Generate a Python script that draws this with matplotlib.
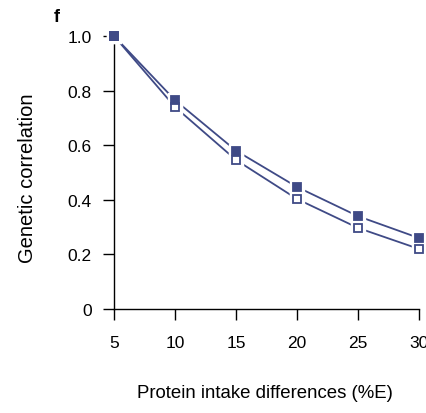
import matplotlib
matplotlib.use("Agg")
import matplotlib.pyplot as plt

plt.rcParams['font.family'] = ['Liberation Sans', 'DejaVu Sans']

diffs = [5, 10, 15, 20, 25, 30]
corr_filled = [1.0, 0.765, 0.58, 0.447, 0.34, 0.26]
corr_open = [1.0, 0.74, 0.546, 0.403, 0.297, 0.22]
yticks = [0, 0.2, 0.4, 0.6, 0.8, 1.0]
ytick_labels = ['0', '0.2', '0.4', '0.6', '0.8', '1.0']

col = '#3F4A86'

fig = plt.figure(figsize=(4.27, 4.14), dpi=100)
ax = fig.add_axes([114 / 427, 1 - 310 / 414, 305 / 427, 273 / 414])

for ys in [corr_open, corr_filled]:
    ax.plot(diffs, ys, color=col, lw=1.3, clip_on=False, zorder=2)
    # white halo so the line stops short of each marker
    ax.plot(diffs, ys, ls='none', marker='s', ms=10.5, mfc='white', mec='white',
            clip_on=False, zorder=3)
for ys, face in [(corr_open, 'white'), (corr_filled, col)]:
    ax.plot(diffs, ys, ls='none', marker='s', ms=6, mfc=face, mec=col, mew=1.3,
            clip_on=False, zorder=4)

ax.set_xlim(5, 30)
ax.set_ylim(0, 1.0)
ax.set_xticks(diffs)
ax.set_yticks(yticks)
ax.set_yticklabels(ytick_labels)
for s in ['top', 'right']:
    ax.spines[s].set_visible(False)
for s in ['left', 'bottom']:
    ax.spines[s].set_linewidth(1.0)
ax.tick_params(axis='x', direction='out', length=8, width=1.0, pad=11, labelsize=12.5)
ax.tick_params(axis='y', direction='out', length=8, width=1.0, pad=8, labelsize=12.5)

fig.text(33 / 427, 1 - 178 / 414, 'Genetic correlation', rotation=90,
         rotation_mode='anchor', ha='center', va='baseline', fontsize=14.5)
fig.text(265 / 427, 1 - 398 / 414, 'Protein intake differences (%E)',
         ha='center', va='baseline', fontsize=13.4)
fig.text(57 / 427, 1 - 22 / 414, 'f', ha='center', va='baseline',
         fontsize=13, fontweight='bold')

fig.savefig('out.png', dpi=100)
